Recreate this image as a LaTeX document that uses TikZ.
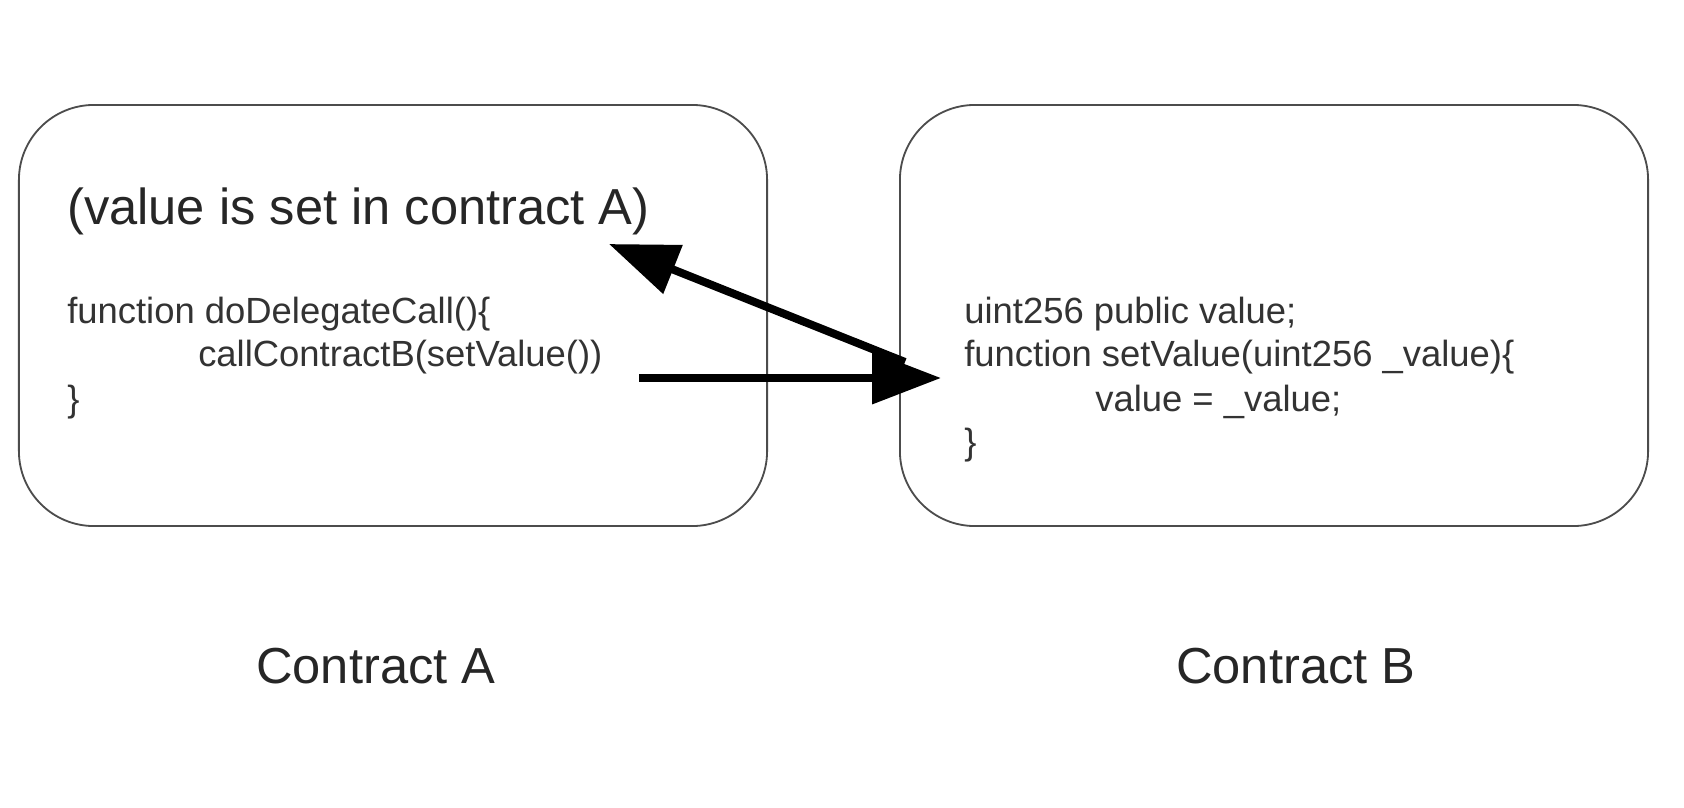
\documentclass[tikz,border=0pt]{standalone}
\usepackage{fontspec}
\setmainfont{Liberation Sans}
\usetikzlibrary{arrows.meta}

\tikzset{
    contract/.style={draw=black!70, line width=1.3pt, rounded corners=1.875cm,
        minimum width=18.7cm, minimum height=10.525cm, inner sep=0pt},
    codeline/.style={anchor=base west, inner sep=0pt, text=black!80,
        font=\fontsize{25.9}{31}\selectfont},
    bigtext/.style={anchor=base west, inner sep=0pt, text=black!85,
        font=\fontsize{36}{43}\selectfont},
    bigarrow/.style={draw=black, line width=5.7pt,
        -{Triangle[length=49pt,width=36pt]}}
}

\begin{document}
\begin{tikzpicture}[x=0.025cm, y=-0.025cm]
    \useasboundingbox[fill=white] (0,0) rectangle (1684,808);

    % the two contracts
    \node[contract] (contractA) at (393,315.5) {};
    \node[contract] (contractB) at (1274,315.5) {};

    % contract A
    \node[bigtext] (noteA) at (67,224) {(value is set in contract A)};
    \node[codeline] (fnA) at (67,323) {function doDelegateCall()\{};
    \node[codeline] (callB) at (198,366) {callContractB(setValue())};
    \node[codeline] (closeA) at (67,411) {\}};

    % contract B
    \node[codeline] (varB) at (964,323) {uint256 public value;};
    \node[codeline] (fnB) at (964,366) {function setValue(uint256 \_value)\{};
    \node[codeline] (assignB) at (1095,411) {value = \_value;};
    \node[codeline] (closeB) at (964,454) {\}};

    % captions
    \node[bigtext] (labelA) at (256,683) {Contract A};
    \node[bigtext] (labelB) at (1176,683) {Contract B};

    % arrows
    \coordinate (callout) at (639,378);
    \coordinate (callin) at (941,378);
    \coordinate (retout) at (905,362);
    \coordinate (retin) at (609,244);
    \draw[bigarrow] (retout) -- (retin);
    \draw[bigarrow] (callout) -- (callin);
\end{tikzpicture}
\end{document}
